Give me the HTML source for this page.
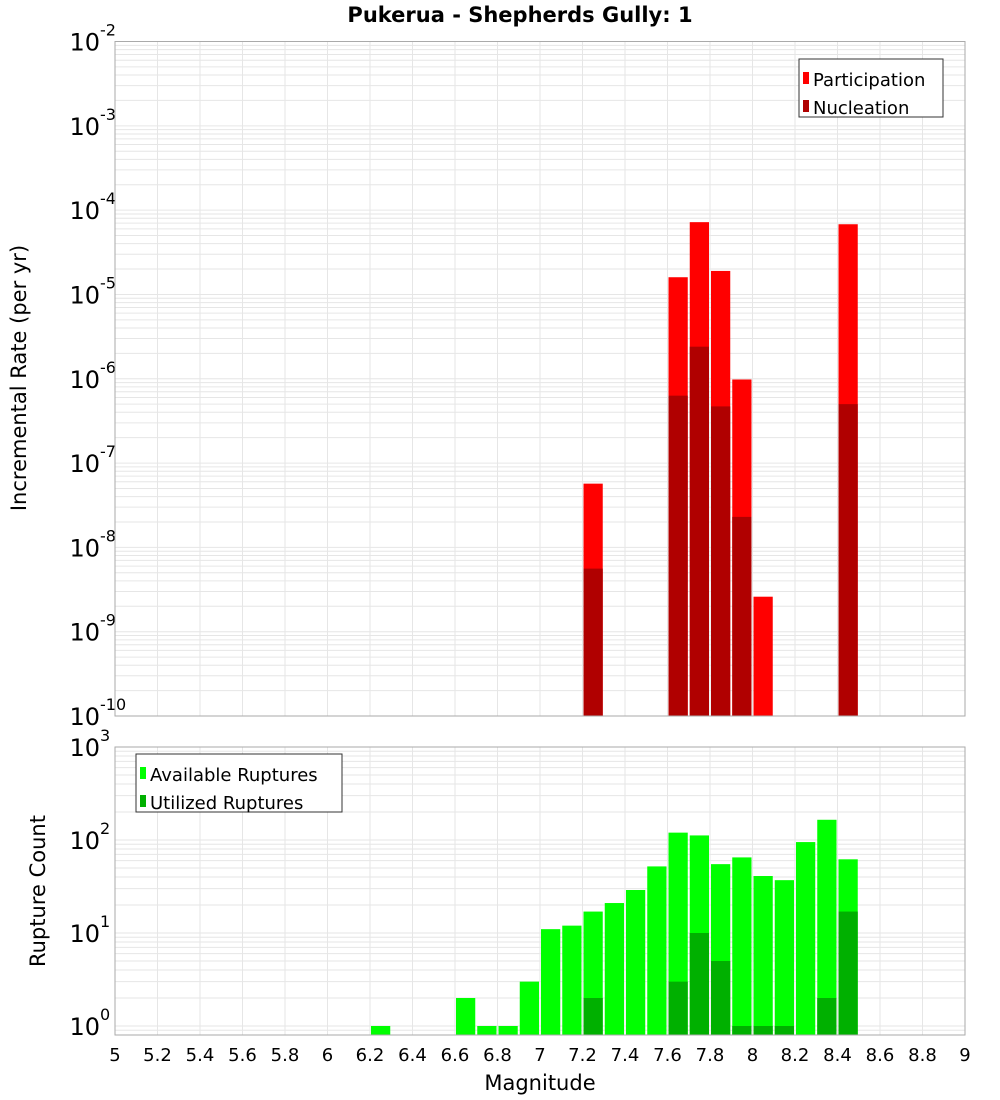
<!DOCTYPE html>
<html><head><meta charset="utf-8"><style>
body{margin:0;background:#fff;}
svg{display:block;font-family:"DejaVu Sans","Liberation Sans",sans-serif;}
</style></head><body>
<svg id="chart" width="1000" height="1100" viewBox="0 0 1000 1100" xmlns="http://www.w3.org/2000/svg">
<text x="520" y="22" text-anchor="middle" font-size="21" font-weight="bold">Pukerua - Shepherds Gully: 1</text>
<g id="top"></g>
<g id="bot"></g>
<text x="540" y="1090" text-anchor="middle" font-size="21">Magnitude</text>
<text transform="translate(26,378) rotate(-90)" text-anchor="middle" font-size="21">Incremental Rate (per yr)</text>
<text transform="translate(45,891) rotate(-90)" text-anchor="middle" font-size="21">Rupture Count</text>
</svg>
<script>
const rateMags=[7.25,7.65,7.75,7.85,7.95,8.05,8.45];
const participation=[5.7e-8,1.6e-5,7.2e-5,1.9e-5,9.8e-7,2.6e-9,6.8e-5];
const nucleation=[5.6e-9,6.3e-7,2.4e-6,4.7e-7,2.3e-8,0,5.0e-7];
const countMags=[6.25,6.65,6.75,6.85,6.95,7.05,7.15,7.25,7.35,7.45,7.55,7.65,7.75,7.85,7.95,8.05,8.15,8.25,8.35,8.45];
const available=[1,2,1,1,3,11,12,17,21,29,52,120,112,55,65,41,37,95,165,62];
const utilized=[0,0,0,0,0,0,0,2,0,0,0,3,10,5,1,1,1,0,2,17];
const xTicks=[5,5.2,5.4,5.6,5.8,6,6.2,6.4,6.6,6.8,7,7.2,7.4,7.6,7.8,8,8.2,8.4,8.6,8.8,9];

const NS="http://www.w3.org/2000/svg";
const X0=115,X1=965;
const xs=m=>X0+(m-5)/4*(X1-X0);
function mk(p,tag,at){const e=document.createElementNS(NS,tag);for(const k in at)e.setAttribute(k,at[k]);p.appendChild(e);return e;}

function panel(g,top,bot,dMax,dMin,pxPerDec,name){
  const ys=v=>top+(dMax-Math.log10(v))*pxPerDec;
  // grid
  for(let d=Math.floor(dMin);d<dMax;d++){for(let k=1;k<10;k++){const y=ys(k*Math.pow(10,d));if(y<top-0.5||y>bot)continue;
    const l=mk(g,'line',{x1:X0,x2:X1,y1:y,y2:y,stroke:'#e6e6e6','stroke-width':1});
    
    }}
  xTicks.forEach(t=>{const l=mk(g,'line',{x1:xs(t),x2:xs(t),y1:top,y2:bot,stroke:'#e6e6e6','stroke-width':1});
    
    });
  // y labels
  for(let d=Math.ceil(dMin);d<=dMax;d++){const y=ys(Math.pow(10,d));
    const t=mk(g,'text',{x:100,y:y+9,'text-anchor':'end','font-size':24});t.textContent='10';
    
    
    const s=mk(g,'text',{x:100,y:y-6,'font-size':16});s.textContent=String(d);
    
    }
  return ys;
}
function frame(g,top,bot,name){const r=mk(g,'rect',{x:X0,y:top,width:X1-X0,height:bot-top,fill:'none',stroke:'#aaa','stroke-width':1});
  
  }
function bar(g,m,v,ys,bot,col,name){if(!(v>0))return;const y=Math.max(ys(v),0);
  const r=mk(g,'rect',{x:xs(m-0.05)+1,y:y,width:xs(m+0.05)-xs(m-0.05)-2,height:bot-y,fill:col});
  
  }
function legend(g,x,y,w,items,name){const r=mk(g,'rect',{x:x,y:y,width:w,height:58,fill:'#fff',stroke:'#333','stroke-width':1});
  
  
  items.forEach((it,i)=>{const yy=y+20+i*28;
    const s=mk(g,'rect',{x:x+4,y:yy-7,width:6,height:12,fill:it[1]});
    
    
    const t=mk(g,'text',{x:x+14,y:yy+7,'font-size':18});t.textContent=it[0];
    
    });}

// top panel
const gt=document.getElementById('top');
const T0=41.5,T1=716;
const ysT=panel(gt,T0,T1,-2,-10,(T1-T0)/8,'top');
rateMags.forEach((m,i)=>bar(gt,m,participation[i],ysT,T1,'#ff0000','participation-bar'));
rateMags.forEach((m,i)=>bar(gt,m,nucleation[i],ysT,T1,'#b00000','nucleation-bar'));
frame(gt,T0,T1,'top');
legend(gt,799,59,144,[['Participation','#ff0000'],['Nucleation','#b00000']],'top-legend');

// bottom panel
const gb=document.getElementById('bot');
const B0=747,B1=1035;
const pxB=(1026-B0)/3;
const dMinB=3-(B1-B0)/pxB;
const ysB=panel(gb,B0,B1,3,dMinB,pxB,'bottom');
countMags.forEach((m,i)=>bar(gb,m,available[i],ysB,B1,'#00ff00','available-bar'));
countMags.forEach((m,i)=>bar(gb,m,utilized[i],ysB,B1,'#00b000','utilized-bar'));
frame(gb,B0,B1,'bottom');
legend(gb,136,754,206,[['Available Ruptures','#00ff00'],['Utilized Ruptures','#00b000']],'bottom-legend');

// x ticks
xTicks.forEach(t=>{const e=mk(gb,'text',{x:xs(t),y:1061,'text-anchor':'middle','font-size':18});e.textContent=String(t);
  
  });
</script>
</body></html>
